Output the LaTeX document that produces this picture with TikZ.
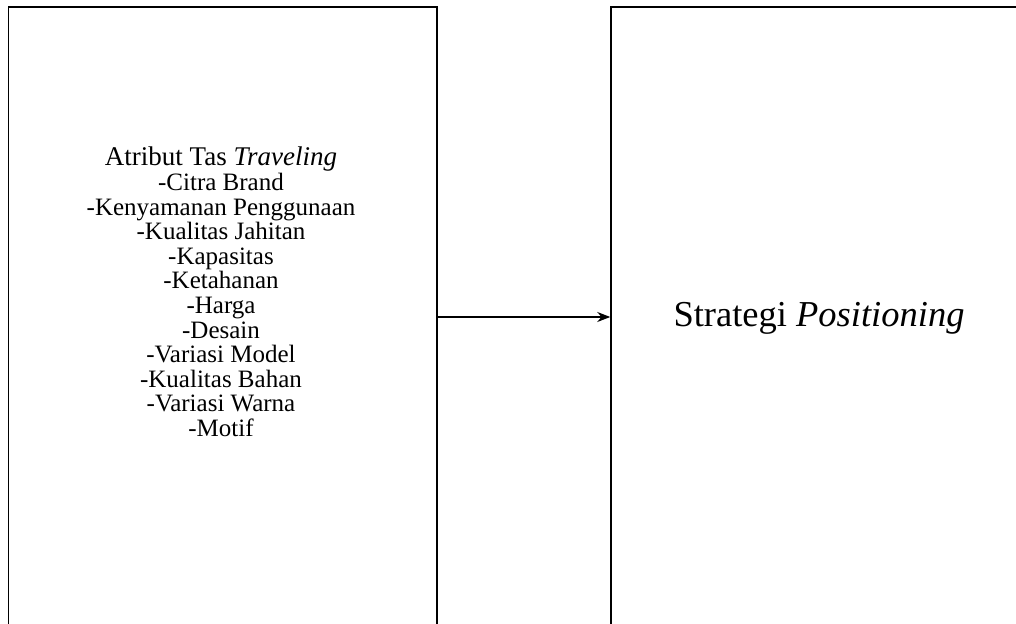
\documentclass[tikz,border=0pt]{standalone}
\usepackage{fontspec}
\setmainfont{Liberation Serif}
\usetikzlibrary{arrows.meta}
\tikzset{
  frame/.style={draw,line width=1.5pt,minimum height=620pt,inner sep=0pt},
  attrtext/.style={align=center,inner sep=0pt,font=\fontsize{25}{24.6}\selectfont},
  bigtext/.style={inner sep=0pt,font=\fontsize{36.5}{40}\selectfont}
}
\begin{document}
\begin{tikzpicture}[x=1pt,y=1pt]
\useasboundingbox (0,0) rectangle (1016,623);
\node(lbox) at (222.75,306)[frame,minimum width=428.5pt]{};
\node(rbox) at (820.5,306)[frame,minimum width=419pt]{};
\node(atribut) at (221,476)[attrtext,anchor=north]{%
  {\fontsize{27}{24.6}\selectfont Atribut Tas \textit{Traveling}}\\
  -Citra Brand\\
  -Kenyamanan Penggunaan\\
  -Kualitas Jahitan\\
  -Kapasitas\\
  -Ketahanan\\
  -Harga\\
  -Desain\\
  -Variasi Model\\
  -Kualitas Bahan\\
  -Variasi Warna\\
  -Motif};
\node(strategi) at (819,296)[bigtext,anchor=base]{Strategi \textit{Positioning}};
\path [-{Stealth[length=13pt,width=10pt]},line width=1.3pt]
  (lbox)   edge   (rbox);

\end{tikzpicture}
\end{document}
